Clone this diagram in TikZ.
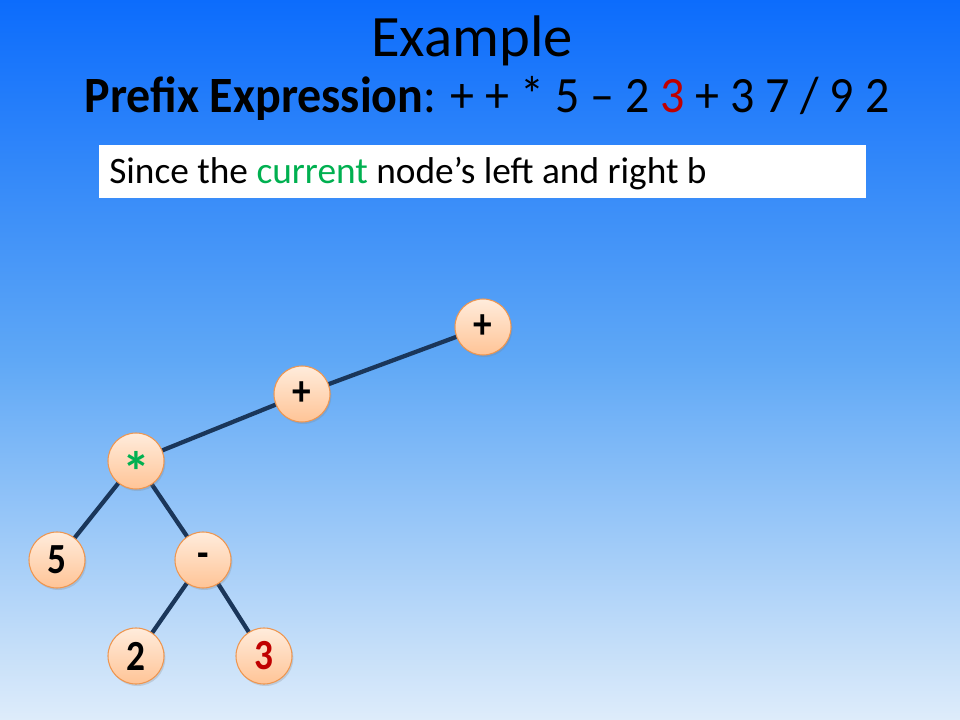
\documentclass[tikz,border=0pt]{standalone}
\usepackage{fontspec}
\setmainfont{Carlito}
\usetikzlibrary{shadows}
\definecolor{topblue}{RGB}{12,108,252}
\definecolor{botblue}{RGB}{222,236,250}
\definecolor{edgecol}{RGB}{26,54,90}
\definecolor{peachtop}{RGB}{255,236,220}
\definecolor{peachbot}{RGB}{255,196,150}
\definecolor{peachline}{RGB}{238,150,80}
\definecolor{mygreen}{RGB}{0,176,80}
\definecolor{myred}{RGB}{192,0,0}
\newcommand{\tallbox}[2][1.15]{\scalebox{1}[#1]{#2}}
\tikzset{
  tnode/.style={circle, minimum size=42pt, inner sep=0pt, draw=peachline, line width=0.8pt,
    top color=peachtop, bottom color=peachbot, font=\fontsize{28}{32}\selectfont\bfseries,
    drop shadow={shadow xshift=1pt, shadow yshift=-1.5pt, opacity=0.25}},
  tedge/.style={draw=edgecol, line width=3.2pt}
}
\begin{document}
\begin{tikzpicture}[x=0.75pt,y=-0.75pt]
\shade[top color=topblue, bottom color=botblue, middle color={rgb,255:red,95;green,168;blue,246}] (0,0) rectangle (960,720);
\useasboundingbox (0,0) rectangle (960,720);
\node[font=\fontsize{44}{50}\selectfont, anchor=base] (title) at (472,57) {Example};
\node[font=\fontsize{36}{42}\selectfont, anchor=base] (expr) at (487,113) {\tallbox[1.06]{\textbf{Prefix Expression}: + + * 5 – 2 {\color{myred}3} + 3 7 / 9 2}};
\node[fill=white, minimum width=767*0.75pt, minimum height=53*0.75pt, anchor=north west, inner sep=0pt] (box) at (99,145) {};
\node[font=\fontsize{28}{32}\selectfont, anchor=base west, inner sep=0pt] (boxtext) at (109,184) {Since the {\color{mygreen}current} node’s left and right b};
\coordinate (cA) at (483,327);
\coordinate (cB) at (302,394);
\coordinate (cC) at (136,461);
\coordinate (cD) at (57,560);
\coordinate (cE) at (203,560);
\coordinate (cF) at (136,656);
\coordinate (cG) at (264,656);
\draw[tedge] (cA) -- (cB);
\draw[tedge] (cB) -- (cC);
\draw[tedge] (cC) -- (cD);
\draw[tedge] (cC) -- (cE);
\draw[tedge] (cE) -- (cF);
\draw[tedge] (cE) -- (cG);
\node[tnode] (nA) at (cA) {\tallbox{+}};
\node[tnode] (nB) at (cB) {\tallbox{+}};
\node[tnode, text=mygreen] (nC) at (cC) {\raisebox{-23pt}[0pt][0pt]{\fontsize{42}{46}\selectfont *}};
\node[tnode] (nD) at (cD) {\tallbox{5}};
\node[tnode] (nE) at (cE) {\tallbox{-}};
\node[tnode] (nF) at (cF) {\tallbox{2}};
\node[tnode, text=myred] (nG) at (cG) {\tallbox{3}};
\end{tikzpicture}
\end{document}
